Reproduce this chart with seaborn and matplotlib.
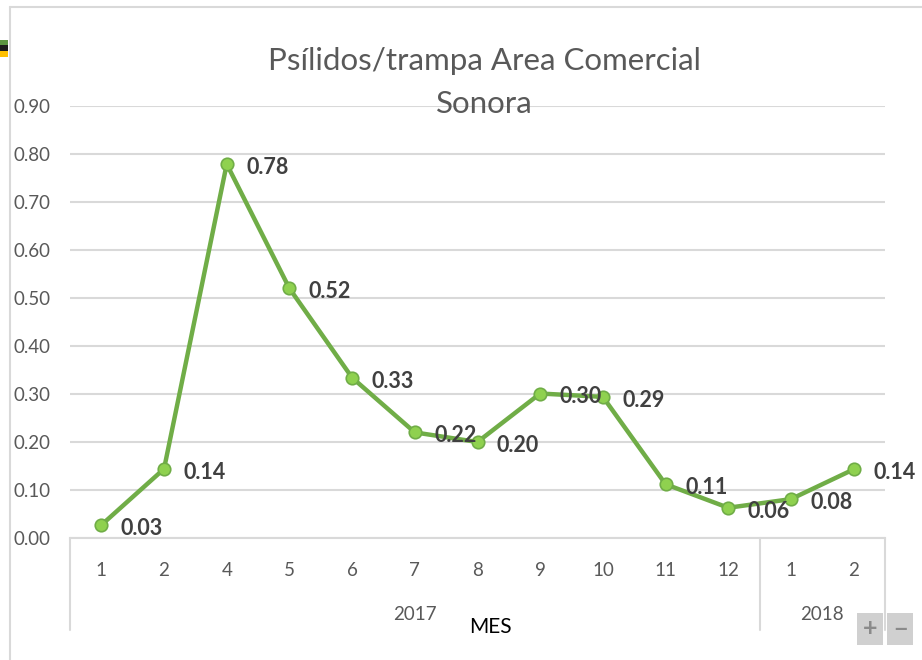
import matplotlib
matplotlib.use('Agg')
import matplotlib.pyplot as plt
import matplotlib.transforms as mtransforms
from matplotlib.patches import Rectangle
from matplotlib.lines import Line2D
import pandas as pd
import seaborn as sns

# Chart data
years = [2017] * 11 + [2018] * 2
months = [1, 2, 4, 5, 6, 7, 8, 9, 10, 11, 12, 1, 2]
values = [0.027, 0.144, 0.779, 0.52, 0.334, 0.22, 0.20, 0.301, 0.294, 0.112, 0.063, 0.081, 0.143]
year_labels = ['2017', '2018']

GREEN = '#70ad47'
LIGHT_GREEN = '#8fd14f'
GRID = '#d9d9d9'
TXT = '#595959'

sns.set_style('white')
plt.rcParams['font.family'] = ['Lato', 'DejaVu Sans']

df = pd.DataFrame({'year': years, 'month': months, 'value': values})
df['pos'] = range(len(df))

fig = plt.figure(figsize=(9.22, 6.6), dpi=100)
ax = fig.add_axes([70 / 922, 1 - 538 / 660, 815 / 922, 432 / 660])

sns.lineplot(data=df, x='pos', y='value', ax=ax, color=GREEN, linewidth=3.2,
             marker='o', markersize=9, markerfacecolor=LIGHT_GREEN,
             markeredgecolor=GREEN, markeredgewidth=1.2, zorder=3)

# Data labels
for p, v in zip(df['pos'], df['value']):
    ax.annotate(f'{v:.2f}', (p, v), xytext=(14, -2.5), textcoords='offset points',
                ha='left', va='center', fontsize=15.5, fontweight='bold',
                color='#404040', zorder=4)

ax.set_xlim(-0.5, len(df) - 0.5)
ax.set_ylim(0, 0.9)
ax.set_yticks([i / 10 for i in range(10)])
ax.set_yticklabels([f'{i / 10:.2f}' for i in range(10)])
ax.tick_params(axis='y', length=0, pad=14, labelsize=13.5, labelcolor=TXT)
ax.set_xticks(df['pos'])
ax.set_xticklabels([str(m) for m in df['month']])
ax.tick_params(axis='x', length=0, pad=17, labelsize=13.5, labelcolor=TXT)
ax.set_xlabel('')
ax.set_ylabel('')
ax.grid(axis='y', color=GRID, linewidth=1.5)
ax.set_axisbelow(True)
for s in ['left', 'right', 'top']:
    ax.spines[s].set_visible(False)
ax.spines['bottom'].set_color(GRID)
ax.spines['bottom'].set_linewidth(1.5)

# Multi-level category axis: year separators and year labels
trans = mtransforms.blended_transform_factory(ax.transData, ax.transAxes)
for xs in [-0.5, 10.5, 12.5]:
    ax.plot([xs, xs], [0, -92 / 432], transform=trans, color=GRID,
            linewidth=1.5, clip_on=False)
ax.text(5, -77 / 432, year_labels[0], transform=trans, ha='center', va='center',
        fontsize=13.5, color=TXT)
ax.text(11.5, -77 / 432, year_labels[1], transform=trans, ha='center', va='center',
        fontsize=13.5, color=TXT)

# Titles
fig.text(484 / 922, 1 - 61 / 660, 'Psílidos/trampa Area Comercial', ha='center',
         va='center', fontsize=22.5, color=TXT)
fig.text(484 / 922, 1 - 104 / 660, 'Sonora', ha='center', va='center',
         fontsize=22.5, color=TXT)
fig.text(490 / 922, 1 - 627 / 660, 'MES', ha='center', va='center',
         fontsize=15, color='black')

# Chart frame
fig.add_artist(Line2D([10 / 922, 10 / 922], [0, 1 - 7 / 660], color=GRID, linewidth=1.5))
fig.add_artist(Line2D([10 / 922, 1], [1 - 7 / 660, 1 - 7 / 660], color=GRID, linewidth=1.5))

# Small coloured marker at the left edge
for y0, y1, c in [(40, 45, '#5b9540'), (45, 51, '#1c1c1c'), (51, 57, '#ffc000')]:
    fig.add_artist(Rectangle((0, 1 - y1 / 660), 8 / 922, (y1 - y0) / 660,
                             facecolor=c, edgecolor='none'))

# Zoom buttons
for x0, sym in [(857, '+'), (887, '−')]:
    fig.add_artist(Rectangle((x0 / 922, 1 - 645 / 660), 26 / 922, 32 / 660,
                             facecolor='#d0d0d0', edgecolor='none'))
    fig.text((x0 + 13) / 922, 1 - 629 / 660, sym, ha='center', va='center',
             fontsize=18, fontweight='bold', color='#8a8a8a')

plt.savefig('out.png', dpi=100)
